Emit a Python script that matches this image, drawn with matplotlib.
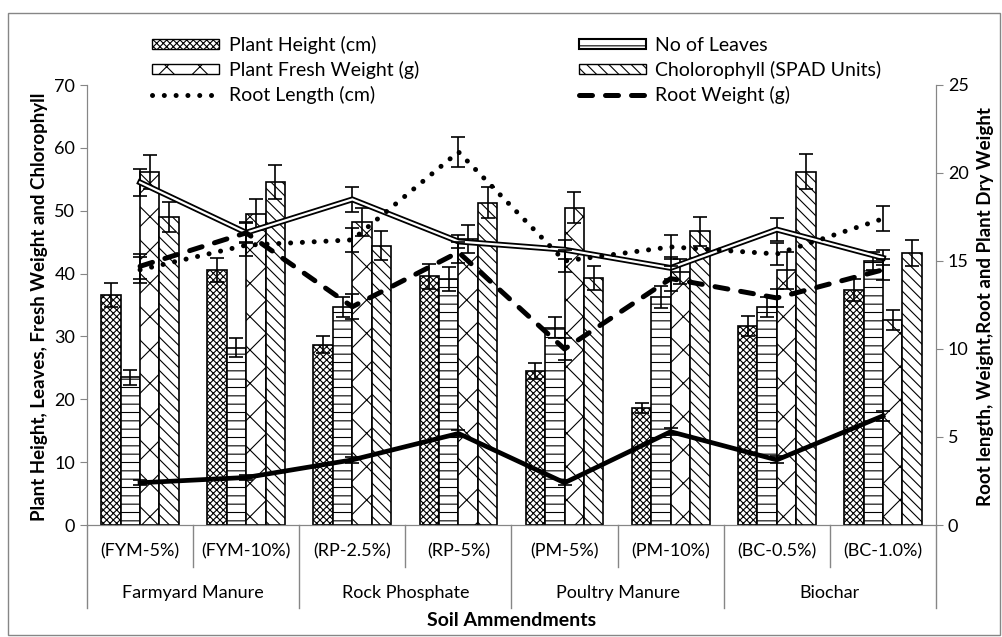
import matplotlib
matplotlib.use("Agg")
import matplotlib.pyplot as plt
import matplotlib.transforms as mtransforms
from matplotlib.patches import Patch, Rectangle
from matplotlib.lines import Line2D
import numpy as np

plt.rcParams['font.family'] = ['Lato', 'DejaVu Sans']
plt.rcParams['hatch.linewidth'] = 0.8

treatments = ["(FYM-5%)", "(FYM-10%)", "(RP-2.5%)", "(RP-5%)",
              "(PM-5%)", "(PM-10%)", "(BC-0.5%)", "(BC-1.0%)"]
groups = ["Farmyard Manure", "Rock Phosphate", "Poultry Manure", "Biochar"]

# bars (left axis)
plant_height = [36.6, 40.6, 28.7, 39.6, 24.5, 18.6, 31.7, 37.4]
plant_height_err = [1.9, 1.9, 1.4, 2.0, 1.3, 0.8, 1.6, 1.8]
leaves = [23.5, 28.2, 34.7, 39.2, 31.4, 36.3, 34.7, 42.0]
leaves_err = [1.2, 1.5, 1.6, 1.9, 1.7, 1.7, 1.6, 1.4]
fresh_weight = [56.2, 49.4, 48.2, 45.5, 50.5, 40.3, 40.5, 32.6]
fresh_weight_err = [2.7, 2.5, 2.3, 2.3, 2.4, 2.0, 3.0, 1.6]
chlorophyll = [49.0, 54.5, 44.4, 51.3, 39.3, 46.7, 56.2, 43.3]
chlorophyll_err = [2.4, 2.7, 2.3, 2.4, 1.9, 2.3, 2.8, 2.1]

# double line (left axis, not in legend)
double_line = [54.5, 46.5, 51.8, 45.1, 43.8, 40.9, 47.0, 42.5]
double_line_err = [2.2, 1.5, 2.0, 1.0, 1.5, 1.8, 1.8, 1.2]

# lines (right axis)
root_length = [14.5, 15.9, 16.2, 21.2, 15.0, 15.8, 15.4, 17.4]
root_length_err = [0.75, 0.6, 0.7, 0.85, 0.6, 0.7, 0.6, 0.7]
root_weight = [14.7, 16.6, 12.4, 15.5, 10.0, 14.0, 12.9, 14.5]
root_weight_err = [0.7, 0.6, 0.7, 0.6, 0.6, 0.7, 0.5, 0.6]
dry_weight = [2.4, 2.7, 3.7, 5.2, 2.4, 5.3, 3.7, 6.2]
dry_weight_err = [0.15, 0.15, 0.15, 0.2, 0.15, 0.2, 0.2, 0.3]

W, H = 1002, 637
fig = plt.figure(figsize=(W / 100, H / 100), dpi=100)
ax = fig.add_axes([87 / W, 1 - 525 / H, (936 - 87) / W, (525 - 85) / H])
ax2 = ax.twinx()

x = np.arange(len(treatments))
w = 0.183
ek = dict(ecolor='black', elinewidth=1.2, capsize=5, capthick=1.2)
bar_specs = [
    (plant_height, plant_height_err, 'xxxxx'),
    (leaves, leaves_err, '--'),
    (fresh_weight, fresh_weight_err, 'x'),
    (chlorophyll, chlorophyll_err, '\\\\\\'),
]
for i, (vals, errs, hatch) in enumerate(bar_specs):
    ax.bar(x + (i - 1.5) * w, vals, w, yerr=errs, color='white',
           edgecolor='black', linewidth=1.2, hatch=hatch, error_kw=ek, zorder=2)

# double line on left axis
ax.errorbar(x, double_line, yerr=double_line_err, fmt='none', zorder=3, **ek)
ax.plot(x, double_line, color='black', lw=4.2, zorder=4, solid_joinstyle='miter')
ax.plot(x, double_line, color='white', lw=1.6, zorder=5, solid_joinstyle='miter')

ax2.errorbar(x, root_length, yerr=root_length_err, fmt='none', zorder=3, **ek)
ax2.plot(x, root_length, color='black', lw=3.6, linestyle=(0, (0.01, 2.35)),
         dash_capstyle='round', zorder=4)
ax2.errorbar(x, root_weight, yerr=root_weight_err, fmt='none', zorder=3, **ek)
ax2.plot(x, root_weight, color='black', lw=3.6, linestyle=(0, (2.6, 2.6)),
         dash_capstyle='round', zorder=4)
ax2.errorbar(x, dry_weight, yerr=dry_weight_err, fmt='none', zorder=3, **ek)
ax2.plot(x, dry_weight, color='black', lw=3.4, zorder=4)

gray = '#868686'
ax.set_xlim(-0.5, len(treatments) - 0.5)
ax.set_ylim(0, 70)
ax.set_yticks(range(0, 71, 10))
ax2.set_ylim(0, 25)
ax2.set_yticks(range(0, 26, 5))
for a in (ax, ax2):
    for s in a.spines.values():
        s.set_color(gray)
    a.spines['top'].set_visible(False)
    a.tick_params(axis='y', colors=gray, labelcolor='black', labelsize=13,
                  length=5, direction='out')
ax.set_xticks([])
ax2.set_xticks([])

# two-level category axis
trans = mtransforms.blended_transform_factory(ax.transData, ax.transAxes)
for i, t in enumerate(treatments):
    ax.text(i, -0.061, t, transform=trans, ha='center', va='center', fontsize=13)
for i in range(1, len(treatments)):
    y1 = -0.189 if i % 2 == 0 else -0.095
    ax.add_line(Line2D([i - 0.5, i - 0.5], [0, y1], transform=trans,
                       color=gray, lw=1, clip_on=False))
for xe in (-0.5, len(treatments) - 0.5):
    ax.add_line(Line2D([xe, xe], [0, -0.189], transform=trans,
                       color=gray, lw=1, clip_on=False))
for j, g in enumerate(groups):
    ax.text(2 * j + 0.5, -0.155, g, transform=trans, ha='center', va='center',
            fontsize=13)
ax.text(0.5, -0.218, "Soil Ammendments", transform=ax.transAxes, ha='center',
        va='center', fontsize=14, fontweight='bold')

fig.text(40 / W, 1 - 307 / H, "Plant Height, Leaves, Fresh Weight and Chlorophyll",
         rotation=90, ha='center', va='center', fontsize=13.5, fontweight='bold')
fig.text(985 / W, 1 - 307 / H, "Root length, Weight,Root and Plant Dry Weight",
         rotation=90, ha='center', va='center', fontsize=13.5, fontweight='bold')

handles = [
    Patch(facecolor='white', edgecolor='black', hatch='xxxxx'),
    Patch(facecolor='white', edgecolor='black', hatch='x'),
    Line2D([], [], color='black', lw=3.6, linestyle=(0, (0.01, 2.35)),
           dash_capstyle='round'),
    Patch(facecolor='white', edgecolor='black', hatch='--', linewidth=1.5),
    Patch(facecolor='white', edgecolor='black', hatch='\\\\\\'),
    Line2D([], [], color='black', lw=3.6, linestyle=(0, (2.6, 2.6)),
           dash_capstyle='round'),
]
labels = ["Plant Height (cm)", "Plant Fresh Weight (g)", "Root Length (cm)",
          "No of Leaves", "Cholorophyll (SPAD Units)", "Root Weight (g)"]
fig.legend(handles, labels, ncol=2, loc='upper left',
           bbox_to_anchor=(152 / W, 1 - 36 / H), frameon=False, fontsize=14,
           handlelength=3.45, handleheight=0.45, handletextpad=0.5,
           columnspacing=8.2, labelspacing=0.36, borderpad=0, borderaxespad=0)

fig.add_artist(Rectangle((8 / W, 2 / H), 992 / W, 1 - 15 / H, transform=fig.transFigure,
                         fill=False, edgecolor=gray, lw=1))

fig.savefig("out.png", dpi=100)
